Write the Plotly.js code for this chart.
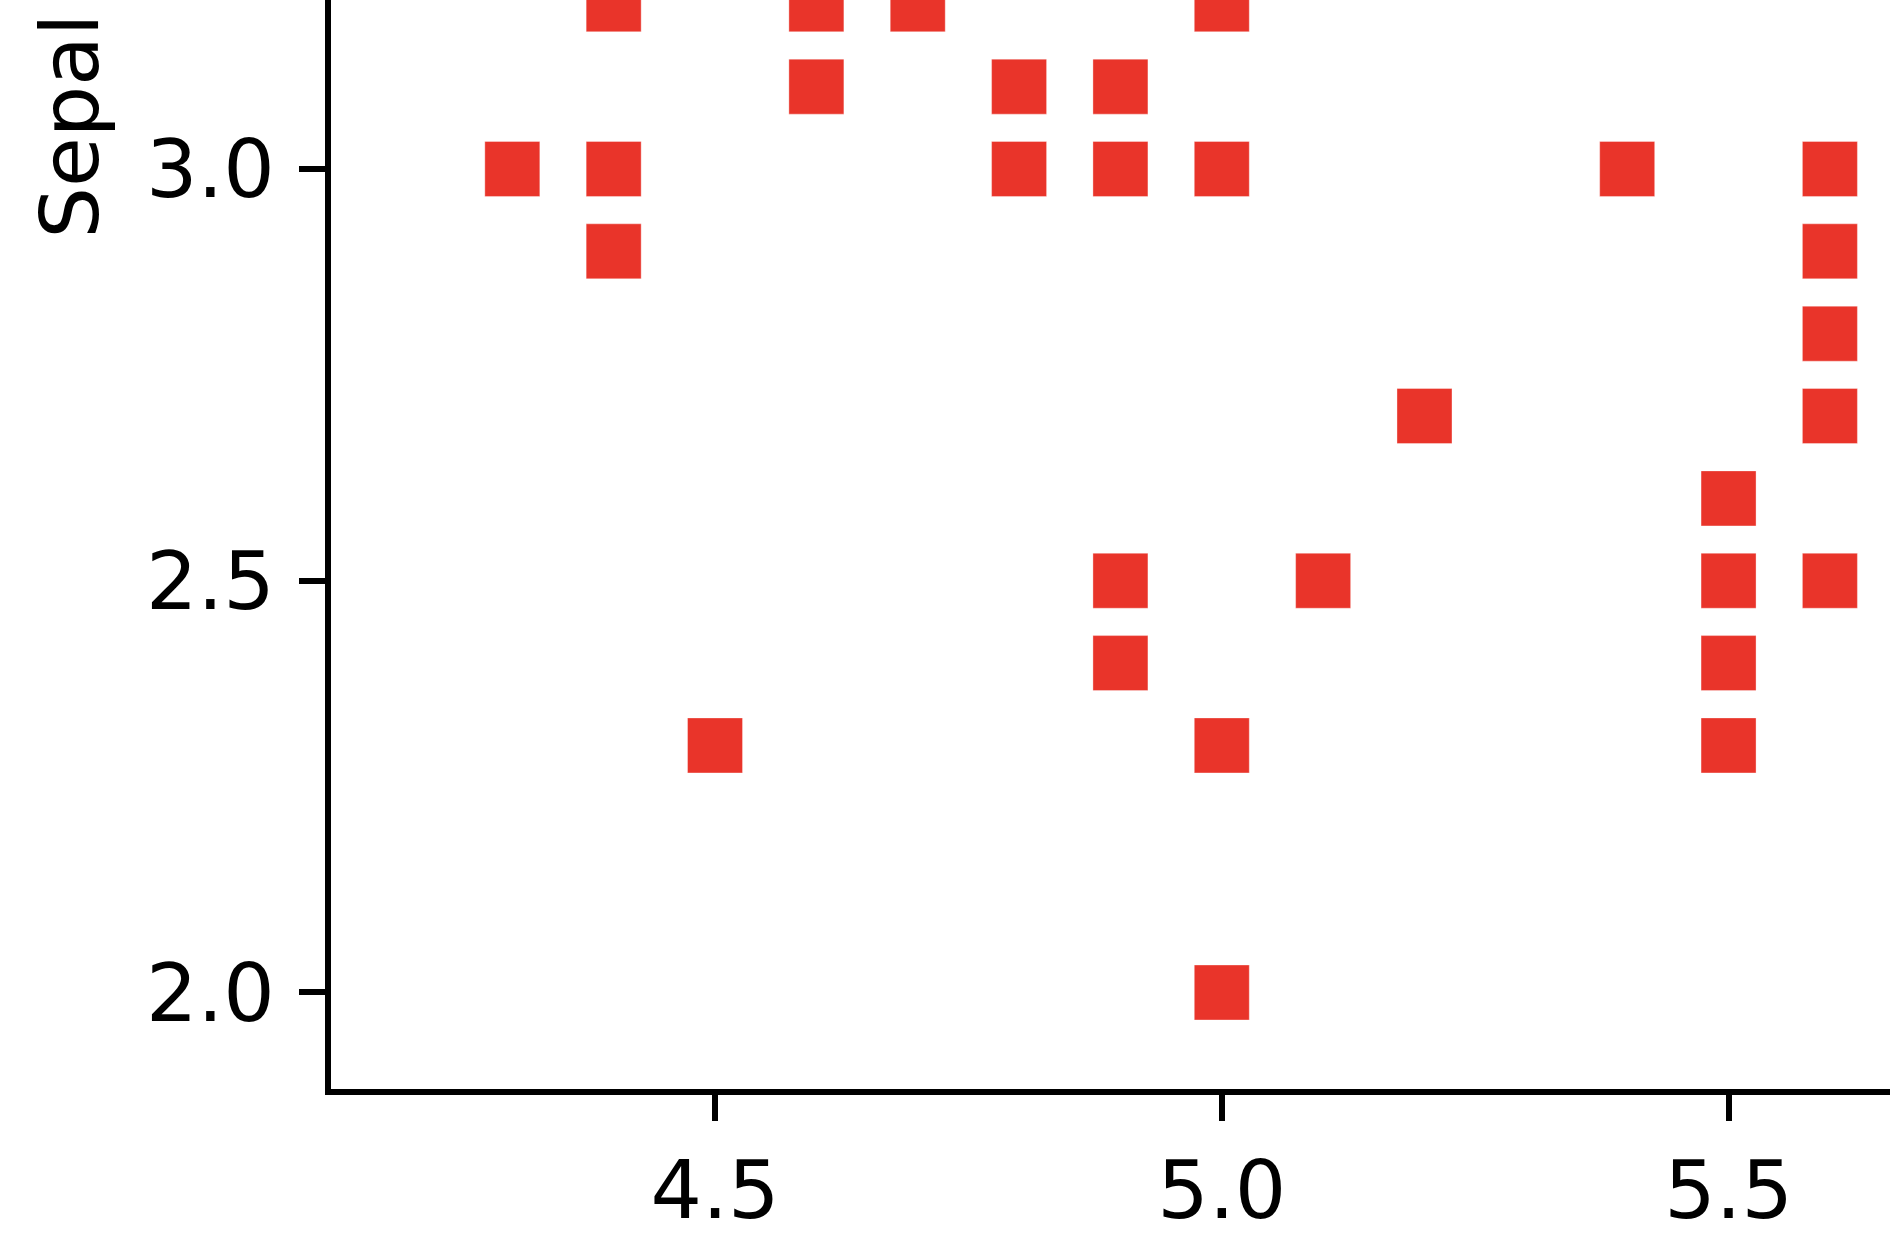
<!DOCTYPE html>
<html>
<head>
<meta charset="utf-8">
<script src="https://cdn.plot.ly/plotly-3.0.1.min.js"></script>
<style>
  html, body { margin: 0; padding: 0; background: #ffffff; overflow: hidden; }
  #chart { width: 1890px; height: 1242px; }
</style>
</head>
<body>
<div id="chart"></div>
<script>
// Visible points (sepal length vs sepal width)
const sepalLength = [4.3, 4.4, 4.4, 4.4, 4.5, 4.6, 4.6, 4.7, 4.8, 4.8,
                     4.9, 4.9, 4.9, 4.9, 5.0, 5.0, 5.0, 5.0, 5.1, 5.2,
                     5.4, 5.5, 5.5, 5.5, 5.5, 5.6, 5.6, 5.6, 5.6, 5.6];
const sepalWidth  = [3.0, 3.2, 3.0, 2.9, 2.3, 3.2, 3.1, 3.2, 3.1, 3.0,
                     3.1, 3.0, 2.5, 2.4, 3.2, 3.0, 2.3, 2.0, 2.5, 2.7,
                     3.0, 2.6, 2.5, 2.4, 2.3, 3.0, 2.9, 2.8, 2.7, 2.5];
const xTickVals = [4.5, 5.0, 5.5];
const xTickText = ['4.5', '5.0', '5.5'];
const yTickVals = [2.0, 2.5, 3.0];
const yTickText = ['2.0', '2.5', '3.0'];
// Only the visible part of the y-axis title appears in the reference
const yTitleVisible = 'Sepal';

const FONT = 'DejaVu Sans, Liberation Sans, sans-serif';

const trace = {
  type: 'scatter',
  mode: 'markers',
  x: sepalLength,
  y: sepalWidth,
  marker: {
    symbol: 'square',
    size: 55,
    color: '#E9342A',
    line: { width: 1, color: 'rgba(255,255,255,0.35)' }
  },
  hoverinfo: 'x+y',
  showlegend: false
};

const axisCommon = {
  showgrid: false,
  zeroline: false,
  showline: true,
  linecolor: '#000000',
  linewidth: 6,
  ticks: 'outside',
  ticklen: 26,
  tickwidth: 6,
  tickcolor: '#000000',
  tickfont: { family: FONT, size: 81, color: '#000000' },
  automargin: false,
  fixedrange: true
};

const layout = {
  width: 1890,
  height: 1242,
  margin: { l: 331, r: 0, t: 0, b: 153, pad: 0 },
  paper_bgcolor: '#ffffff',
  plot_bgcolor: '#ffffff',
  font: { family: FONT, color: '#000000' },
  xaxis: Object.assign({}, axisCommon, {
    range: [4.1211, 5.6593],
    tickmode: 'array',
    tickvals: xTickVals,
    ticktext: xTickText,
    mirror: false
  }),
  yaxis: Object.assign({}, axisCommon, {
    range: [1.8828, 3.2052],
    tickmode: 'array',
    tickvals: yTickVals,
    ticktext: yTickText,
    ticklabelstandoff: 8,
    mirror: false
  }),
  annotations: [{
    text: yTitleVisible,
    xref: 'paper',
    yref: 'paper',
    x: -0.1674,
    y: 0.7787,
    xanchor: 'center',
    yanchor: 'bottom',
    textangle: -90,
    showarrow: false,
    font: { family: FONT, size: 81, color: '#000000' }
  }]
};

Plotly.newPlot('chart', [trace], layout, { displayModeBar: false, staticPlot: true });
</script>
</body>
</html>
